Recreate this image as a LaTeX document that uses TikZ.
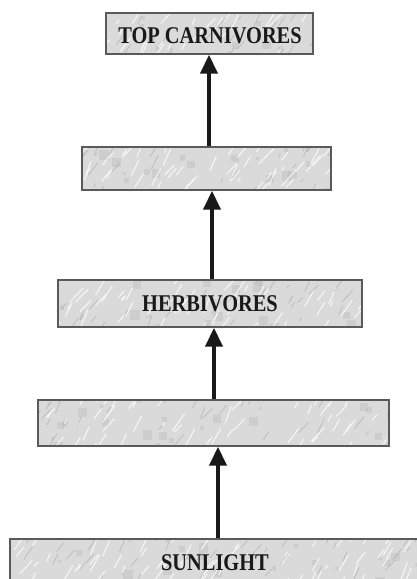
\documentclass[tikz,border=0pt]{standalone}
\usepackage{fontspec}
\usepackage{graphicx}
\setmainfont{Liberation Serif}
\usetikzlibrary{arrows.meta,calc}
\definecolor{marblebase}{HTML}{DADADA}
\definecolor{boxedge}{HTML}{5A5A5A}
\tikzset{
  marble/.style={draw=boxedge, line width=1.4pt, fill=marblebase, inner sep=0pt,
    path picture={
      \pgfmathsetseed{#1}
      \foreach \i in {1,...,25}{
        \pgfmathsetmacro\rx{rand*200}
        \pgfmathsetmacro\ry{rand*25}
        \pgfmathsetmacro\rs{3+rnd*7}
        \fill[gray!60, opacity=0.3]
          ([shift={(\rx,\ry)}]path picture bounding box.center) rectangle ++(\rs,\rs);
      }
      \foreach \i in {1,...,80}{
        \pgfmathsetmacro\rx{rand*215}
        \pgfmathsetmacro\ry{rand*30}
        \pgfmathsetmacro\rl{4+rnd*18}
        \pgfmathsetmacro\ra{-45-rnd*25}
        \draw[white, opacity=0.8, line width=1pt]
          ([shift={(\rx,\ry)}]path picture bounding box.center) -- ++(\ra:\rl);
      }
      \foreach \i in {1,...,45}{
        \pgfmathsetmacro\rx{rand*215}
        \pgfmathsetmacro\ry{rand*30}
        \pgfmathsetmacro\rl{3+rnd*14}
        \pgfmathsetmacro\ra{-45-rnd*25}
        \draw[gray!75, opacity=0.55, line width=0.7pt]
          ([shift={(\rx,\ry)}]path picture bounding box.center) -- ++(\ra:\rl);
      }
    }},
  lbl/.style={font=\fontsize{24}{24}\selectfont\bfseries, text=black!90},
  arr/.style={line width=4pt, draw=black!90, -{Triangle[length=19pt,width=17pt]}}
}
\newcommand{\cond}[1]{\scalebox{0.85}[1]{#1}}
\begin{document}
\begin{tikzpicture}[x=1pt,y=-1pt]
\useasboundingbox (0,0) rectangle (417,579);
\node[marble=11, minimum width=207pt, minimum height=41pt] (b1) at (209.5,33.5) {};
\node[marble=22, minimum width=249pt, minimum height=43pt] (b2) at (206.5,168.5) {};
\node[marble=33, minimum width=304pt, minimum height=47pt] (b3) at (210,303.5) {};
\node[marble=44, minimum width=351pt, minimum height=46pt] (b4) at (213.5,423) {};
\node[marble=55, minimum width=415pt, minimum height=58pt] (b5) at (217.5,568) {};
\node[lbl] (t1) at (210,36) {\cond{TOP CARNIVORES}};
\node[lbl] (t3) at (210,304) {\cond{HERBIVORES}};
\node[lbl] (t5) at (215,563) {\cond{SUNLIGHT}};
\draw[arr] ([xshift=2.5pt]b2.north) -- ([xshift=2.5pt]b2.north |- b1.south);
\draw[arr] ([xshift=2pt]b3.north) -- ([xshift=2pt]b3.north |- b2.south);
\draw[arr] ([xshift=0.5pt]b4.north) -- ([xshift=0.5pt]b4.north |- b3.south);
\draw[arr] ([xshift=0.5pt]b5.north) -- ([xshift=0.5pt]b5.north |- b4.south);
\end{tikzpicture}
\end{document}
